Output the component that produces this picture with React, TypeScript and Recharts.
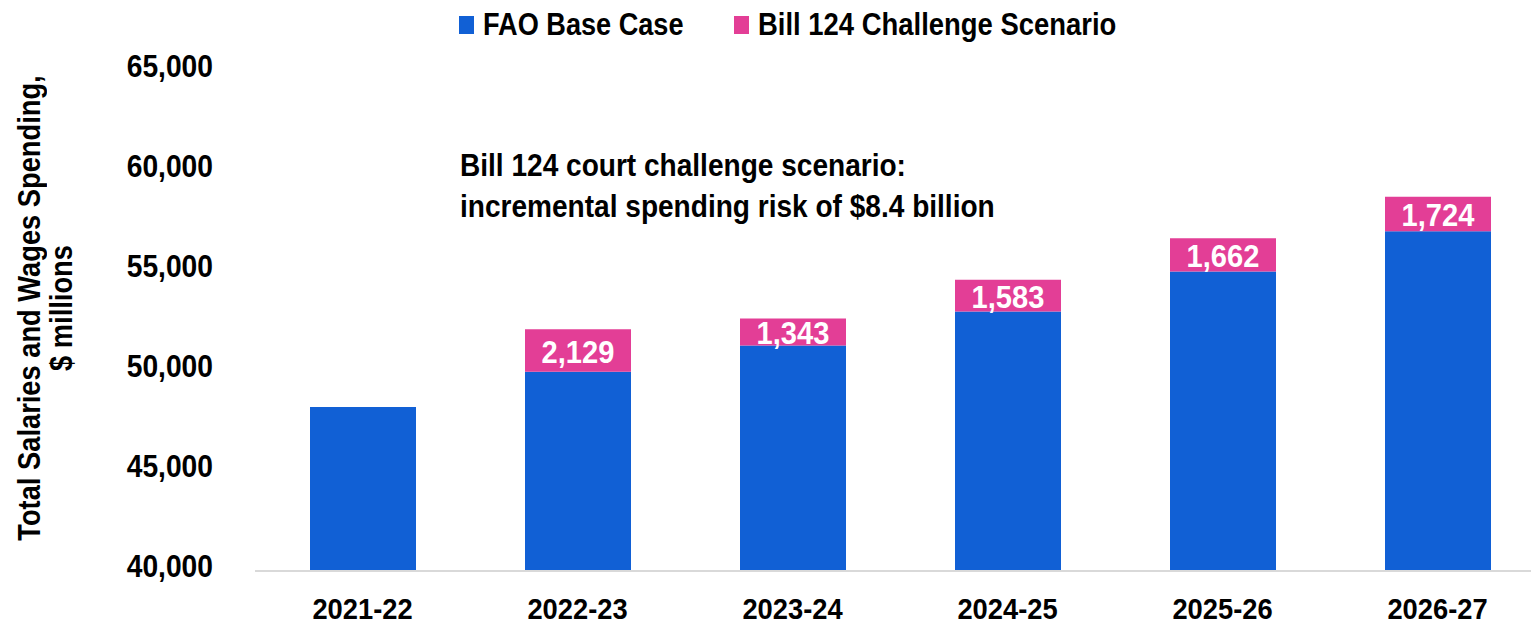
import { BarChart, Bar, XAxis, YAxis, LabelList } from "recharts";

const years = ["2021-22", "2022-23", "2023-24", "2024-25", "2025-26", "2026-27"];
const baseCase = [48200, 49960, 51280, 52980, 54970, 56990];
const challenge = [null, 2129, 1343, 1583, 1662, 1724];
const yTicks = [40000, 45000, 50000, 55000, 60000, 65000];

const data = years.map((year, i) => ({
  year,
  base: baseCase[i],
  challenge: challenge[i],
}));

const FONT = "'Liberation Sans', Arial, sans-serif";
const BLUE = "#1160d5";
const PINK = "#e33e96";
const SQUEEZE = 0.91;

const fmt = (v: any) => (v == null || v === 0 ? "" : Number(v).toLocaleString("en-US"));

// narrow-looking text: scale horizontally around the anchor point
const YTick = ({ x, y, payload }: any) => (
  <text
    transform={`translate(${x - 42},${y + 6}) scale(${SQUEEZE},1)`}
    textAnchor="end"
    fontSize={31}
    fontWeight={700}
    fontFamily={FONT}
    fill="#000"
  >
    {fmt(payload.value)}
  </text>
);

const XTick = ({ x, y, payload }: any) => (
  <text
    transform={`translate(${x},${y + 48}) scale(${SQUEEZE},1)`}
    textAnchor="middle"
    fontSize={30}
    fontWeight={700}
    fontFamily={FONT}
    fill="#000"
  >
    {payload.value}
  </text>
);

const SegLabel = ({ x, y, width, height, value }: any) => {
  if (value == null || value === 0) return null;
  const cx = Number(x) + Number(width) / 2;
  const cy = Number(y) + Number(height) / 2;
  return (
    <text
      transform={`translate(${cx},${cy + 12}) scale(${SQUEEZE},1)`}
      textAnchor="middle"
      fontSize={32}
      fontWeight={700}
      fontFamily={FONT}
      fill="#fff"
    >
      {fmt(value)}
    </text>
  );
};

const squeezed = (k: number) =>
  ({ display: "inline-block", transform: `scaleX(${k})`, transformOrigin: "left center" } as const);

export default function App() {
  return (
    <div
      style={{
        position: "absolute",
        left: 0,
        top: 0,
        width: 1531,
        height: 626,
        overflow: "hidden",
        background: "#fff",
        fontFamily: FONT,
        fontWeight: 700,
        color: "#000",
      }}
    >
      <BarChart
        width={1545}
        height={626}
        data={data}
        margin={{ top: 71, right: 0, bottom: 0, left: 0 }}
      >
        <XAxis
          dataKey="year"
          height={55}
          axisLine={{ stroke: "#d9d9d9", strokeWidth: 2 }}
          tickLine={false}
          tickSize={0}
          tickMargin={0}
          tick={<XTick />}
        />
        <YAxis
          width={255}
          domain={[40000, 65000]}
          ticks={yTicks}
          allowDataOverflow
          axisLine={false}
          tickLine={false}
          tickSize={0}
          tickMargin={0}
          tick={<YTick />}
        />
        <Bar dataKey="base" stackId="a" fill={BLUE} barSize={106} isAnimationActive={false} />
        <Bar dataKey="challenge" stackId="a" fill={PINK} barSize={106} isAnimationActive={false}>
          <LabelList dataKey="challenge" content={<SegLabel />} />
        </Bar>
      </BarChart>

      {/* legend */}
      <div style={{ position: "absolute", top: 7, left: 459, fontSize: 31, lineHeight: "36px", whiteSpace: "nowrap" }}>
        <span style={{ position: "absolute", left: 0, top: 9, width: 15, height: 18, background: BLUE }} />
        <span style={{ ...squeezed(0.875), position: "absolute", left: 24, top: 0 }}>FAO Base Case</span>
        <span style={{ position: "absolute", left: 275, top: 9, width: 15, height: 18, background: PINK }} />
        <span style={{ ...squeezed(0.885), position: "absolute", left: 299, top: 0 }}>Bill 124 Challenge Scenario</span>
      </div>

      {/* annotation */}
      <div style={{ position: "absolute", top: 145, left: 460, fontSize: 31, lineHeight: "41px", whiteSpace: "nowrap" }}>
        <span style={squeezed(0.905)}>Bill 124 court challenge scenario:</span>
        <br />
        <span style={squeezed(0.905)}>incremental spending risk of $8.4 billion</span>
      </div>

      {/* y axis title */}
      <div
        style={{
          position: "absolute",
          left: 46,
          top: 308,
          width: 600,
          transform: "translate(-50%, -50%) rotate(-90deg)",
          textAlign: "center",
          fontSize: 31,
          lineHeight: "32px",
          whiteSpace: "nowrap",
        }}
      >
        <div style={{ transform: "scaleX(0.88)" }}>Total Salaries and Wages Spending,</div>
        <div style={{ transform: "scaleX(0.88)" }}>$ millions</div>
      </div>
    </div>
  );
}
